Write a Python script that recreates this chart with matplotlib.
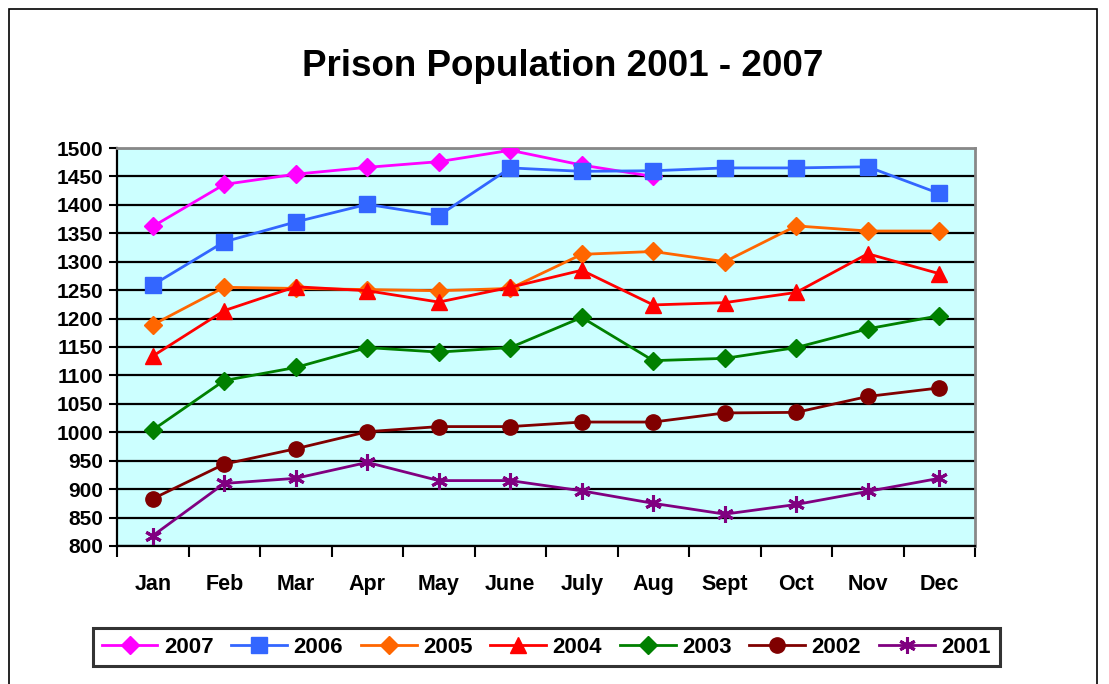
import matplotlib
matplotlib.use("Agg")
import matplotlib.pyplot as plt
from matplotlib.patches import Rectangle

plt.rcParams['font.family'] = ['Liberation Sans', 'DejaVu Sans']
plt.rcParams['font.weight'] = 'bold'

# monthly prison population by year
months = ["Jan", "Feb", "Mar", "Apr", "May", "June", "July", "Aug", "Sept", "Oct", "Nov", "Dec"]
years = ["2007", "2006", "2005", "2004", "2003", "2002", "2001"]
pop_2007 = [1362, 1436, 1454, 1466, 1476, 1496, 1470, 1450]
pop_2006 = [1259, 1335, 1370, 1401, 1381, 1465, 1459, 1460, 1465, 1465, 1467, 1420]
pop_2005 = [1189, 1255, 1253, 1251, 1249, 1253, 1313, 1318, 1300, 1363, 1354, 1354]
pop_2004 = [1134, 1214, 1256, 1249, 1229, 1255, 1285, 1224, 1228, 1246, 1314, 1279]
pop_2003 = [1004, 1091, 1114, 1149, 1141, 1149, 1202, 1126, 1130, 1149, 1182, 1205]
pop_2002 = [883, 944, 971, 1001, 1010, 1010, 1018, 1018, 1034, 1035, 1063, 1078]
pop_2001 = [818, 910, 919, 947, 915, 915, 897, 875, 856, 873, 896, 919]
series = [pop_2007, pop_2006, pop_2005, pop_2004, pop_2003, pop_2002, pop_2001]

colors = ["#FF00FF", "#3366FF", "#FF6600", "#FF0000", "#008000", "#800000", "#800080"]
markers = ["D", "s", "D", "^", "D", "o", "*"]
msizes = [9, 11, 9, 11, 9, 11, 12]

fig = plt.figure(figsize=(11.09, 6.84), dpi=100)
ax = fig.add_axes([0.1055, 0.2018, 0.7737, 0.5818])
ax.set_facecolor("#CCFFFF")

for vals, name, c, m, ms in zip(series, years, colors, markers, msizes):
    x = [i + 0.5 for i in range(len(vals))]
    if m == "*":
        ax.plot(x, vals, color=c, lw=2, marker=(6, 2, 0), ms=ms, mew=2.2,
                label=name, zorder=3)
    else:
        ax.plot(x, vals, color=c, lw=2, marker=m, ms=ms, mec=c, mfc=c,
                label=name, zorder=3)

ax.set_xlim(0, 12)
ax.set_ylim(800, 1500)
ax.set_yticks(range(800, 1501, 50))
ax.set_xticks(range(0, 13))
ax.set_xticklabels([])
ax.set_xticks([i + 0.5 for i in range(12)], minor=True)
ax.set_xticklabels(months, minor=True, fontsize=15.5, fontweight='bold')
ax.tick_params(axis='x', which='major', direction='out', length=8, width=1.5)
ax.tick_params(axis='x', which='minor', length=0, pad=20)
ax.tick_params(axis='y', direction='out', length=6, width=1.5, labelsize=15, pad=4)
for lbl in ax.get_yticklabels():
    lbl.set_fontweight('bold')

ax.yaxis.grid(True, color='black', lw=1.6, zorder=1)
ax.set_axisbelow(True)
for side in ["top", "right"]:
    ax.spines[side].set_color("#888888")
    ax.spines[side].set_linewidth(2)
for side in ["left", "bottom"]:
    ax.spines[side].set_color("black")
    ax.spines[side].set_linewidth(1.6)

fig.text(0.5077, 0.9035, "Prison Population 2001 - 2007", ha='center', va='center',
         fontsize=26.5, fontweight='bold')

leg = fig.legend(loc='center', bbox_to_anchor=(0.4926, 0.054), ncol=7,
                 frameon=True, fancybox=False, handlelength=2.5, handletextpad=0.3,
                 columnspacing=0.8, borderpad=0.4, markerscale=1.0,
                 prop={'weight': 'bold', 'size': 16})
leg.get_frame().set_edgecolor('black')
leg.get_frame().set_linewidth(2.2)

# outer chart border
fig.patches.append(Rectangle((9 / 1109, -0.05), 1088 / 1109, 1.05 - 9 / 684,
                             transform=fig.transFigure, fill=False, ec='black', lw=1.2))

fig.savefig("out.png", dpi=100)
